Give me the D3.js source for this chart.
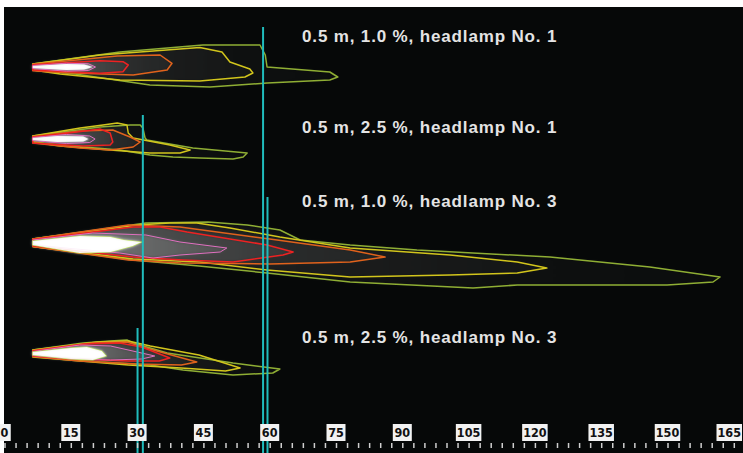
<!DOCTYPE html>
<html>
<head>
<meta charset="utf-8">
<script src="https://cdn.jsdelivr.net/npm/d3@7"></script>
<style>
  body { margin: 0; background: #fff; }
  svg { display: block; }
</style>
</head>
<body>
<script>
// isolux contours, [distance m, lateral offset]
var p1Core   = [[6.4,0.1],[14,0.3],[18,0.25],[20,0],[18,-0.25],[14,-0.3],[6.4,-0.1]];
var p1Pink   = [[6.4,0.15],[14,0.38],[19,0.32],[20.6,0],[19,-0.35],[14,-0.42],[6.4,-0.15]];
var p1Red    = [[6.4,0.22],[21.6,0.63],[26.8,0.53],[28,0.2],[26.8,-0.47],[21.6,-0.63],[6.4,-0.3]];
var p1Orange = [[6.4,0.27],[25.5,1.1],[35.2,1.2],[37.9,0.37],[36.8,-0.3],[29.1,-0.8],[14.1,-0.57],[6.4,-0.37]];
var p1Yellow = [[6.4,0.3],[21.6,1.2],[44.2,1.95],[49.2,1.5],[51,0.5],[55.5,-0.2],[56.2,-0.6],[54.4,-1.0],[44.2,-1.4],[26.1,-1.3],[12.6,-0.7],[6.4,-0.3]];
var p1Green  = [[6.4,0.3],[26.1,1.5],[44.9,2.2],[57.8,2.2],[59.0,1.2],[59.4,0],[73.6,-0.5],[75.4,-1.0],[73.6,-1.3],[59.4,-1.6],[46.5,-2.0],[32.9,-1.8],[16,-0.7],[6.4,-0.3]];

var p2Core   = [[6.4,0.1],[12,0.3],[17.8,0.25],[19,0],[17.8,-0.25],[12,-0.3],[6.4,-0.1]];
var p2Pink   = [[6.4,0.15],[14,0.45],[19.3,0.3],[20.5,0],[19.3,-0.35],[14,-0.45],[6.4,-0.15]];
var p2Red    = [[6.4,0.2],[16.4,0.7],[21.6,1.0],[23.9,0.6],[24.5,-0.3],[23.9,-0.6],[17.8,-0.7],[6.4,-0.4]];
var p2Orange = [[6.4,0.25],[17.1,0.8],[24.5,0.9],[28.4,0.2],[30.7,-0.3],[29.1,-0.8],[23.9,-1.1],[17.1,-0.9],[6.4,-0.4]];
var p2Yellow = [[6.4,0.3],[17.1,1.1],[22.3,1.4],[25.5,1.6],[27.7,1.4],[28,0.6],[29.1,0.1],[37.4,-0.6],[42,-1.1],[39.7,-1.4],[32.9,-1.4],[23.9,-1.1],[12.6,-0.7],[6.4,-0.3]];
var p2Green  = [[6.4,0.3],[21.6,1.2],[28.4,1.4],[30.7,1.4],[31.3,1.1],[31.8,0.1],[32.2,-0.1],[42.6,-0.9],[54.9,-1.4],[54,-1.8],[51.7,-2.0],[44.2,-1.9],[38.1,-1.8],[32.9,-1.6],[26.1,-1.1],[12.6,-0.6],[6.4,-0.3]];

var p3Core   = [[6.4,0.1],[17.1,0.6],[24,0.5],[27,0.2],[31,0],[29,-0.4],[24,-1.0],[17,-1.1],[6.4,-0.3]];
var p3Pink   = [[6.4,0.2],[20,0.9],[32,0.7],[39.7,0],[50.3,-0.6],[48.8,-1.0],[39.7,-1.3],[33.6,-1.6],[26.1,-1.1],[6.4,-0.3]];
var p3Red    = [[6.4,0.25],[29.1,1.5],[35.2,1.5],[41.3,1.0],[59.4,-0.3],[65.3,-1.0],[63,-1.3],[51.7,-2.0],[40.4,-1.8],[29.1,-1.5],[6.4,-0.4]];
var p3Orange = [[6.4,0.3],[28,1.7],[39.7,1.5],[60,0.3],[78.2,-0.8],[86.1,-1.5],[78.2,-2.0],[60,-2.2],[40,-2.1],[28,-1.8],[6.4,-0.45]];
var p3Yellow = [[6.4,0.3],[30,1.7],[37.4,1.9],[43.5,1.9],[51,1.4],[62.3,0.5],[78.2,-0.6],[100.8,-1.3],[116,-2.0],[122.7,-2.6],[116,-3.1],[100.8,-3.3],[78.2,-3.5],[59.4,-2.8],[44.2,-2.0],[29.1,-1.7],[6.4,-0.45]];
var p3Green  = [[6.4,0.3],[32,1.9],[46,2.0],[54.9,1.7],[62.3,1.2],[66.9,0.2],[78.2,-0.3],[93.3,-0.8],[123.4,-1.5],[146,-2.5],[161.9,-3.5],[160.3,-4.0],[149.9,-4.3],[116,-4.3],[106,-4.6],[78.2,-4.0],[59.4,-3.1],[44,-2.4],[29,-1.8],[6.4,-0.45]];

var p4Core   = [[6.4,0.1],[15,0.5],[18.6,0.6],[22,0.2],[23,-0.3],[20,-0.7],[15,-0.6],[6.4,-0.2]];
var p4Pink   = [[6.4,0.15],[17,0.8],[24,0.7],[30,0.1],[34,-0.3],[31,-0.6],[24,-0.7],[15,-0.6],[6.4,-0.25]];
var p4Red    = [[6.4,0.2],[18,0.9],[26,1.0],[31,0.6],[37.4,-0.5],[35,-0.8],[28,-0.8],[16,-0.6],[6.4,-0.3]];
var p4Orange = [[6.4,0.25],[20,1.0],[27.7,1.1],[32,0.5],[43.5,-0.9],[40,-1.2],[30,-1.1],[17,-0.8],[6.4,-0.35]];
var p4Yellow = [[6.4,0.3],[21,1.1],[28,1.2],[33,0.7],[44,-0.2],[53.3,-1.5],[50,-1.8],[40,-1.5],[28,-1.2],[6.4,-0.4]];
var p4Green  = [[6.4,0.3],[17.8,1.0],[23.9,1.2],[27.7,1.3],[29.1,1.0],[36.8,0],[51.7,-1.0],[62.3,-1.6],[60.7,-2.0],[51.7,-2.2],[40.4,-1.7],[32.9,-1.2],[21.6,-0.9],[6.4,-0.3]];

var panelLabels = ["0.5 m, 1.0 %, headlamp No. 1", "0.5 m, 2.5 %, headlamp No. 1",
                   "0.5 m, 1.0 %, headlamp No. 3", "0.5 m, 2.5 %, headlamp No. 3"];
var cutDist = [58.5, 31.3, 59.5, 30.1];   // cyan marker distance, m
var cutTop  = [4.0, 2.4, 4.5, 2.5];       // marker top, lateral units
var tickLabels = [0, 15, 30, 45, 60, 75, 90, 105, 120, 135, 150, 165];

var width = 743, height = 453;
var panelY = [67, 139, 242, 353];
var labelY = [42, 133, 207, 343];

// colour + glow per contour level
var level = {
  green:  {stroke: "#8fae34", glow: 0.06, w: 1.5},
  yellow: {stroke: "#d2c51c", glow: 0.07, w: 1.5},
  orange: {stroke: "#e0621c", glow: 0.11, w: 1.5},
  red:    {stroke: "#ee2222", glow: 0.16, w: 1.5},
  pink:   {stroke: "#e070c0", glow: 0.24, w: 1},
  lime:   {stroke: "#b4dc50", glow: 0.0, w: 1.2}
};

var panels = [
  [[p1Green,"green"],[p1Yellow,"yellow"],[p1Orange,"orange"],[p1Red,"red"],[p1Pink,"pink"]],
  [[p2Green,"green"],[p2Yellow,"yellow"],[p2Orange,"orange"],[p2Red,"red"],[p2Pink,"pink"]],
  [[p3Green,"green"],[p3Yellow,"yellow"],[p3Orange,"orange"],[p3Red,"red"],[p3Pink,"pink"]],
  [[p4Green,"green"],[p4Yellow,"yellow"],[p4Orange,"orange"],[p4Red,"red"],[p4Pink,"pink"]]
];
var cores = [[p1Core,null],[p2Core,null],[p3Core,"lime"],[p4Core,"lime"]];

var x = d3.scaleLinear().domain([0, 165]).range([4.5, 733.8]);
function yScale(i) {
  return d3.scaleLinear().domain([-1, 1]).range([panelY[i] + 10, panelY[i] - 10]);
}

var svg = d3.select("body").append("svg")
    .attr("width", width)
    .attr("height", height);

var defs = svg.append("defs");
defs.append("filter").attr("id", "soft")
    .attr("x", "-10%").attr("y", "-50%").attr("width", "120%").attr("height", "200%")
  .append("feGaussianBlur").attr("stdDeviation", 1.6);
var grad = defs.append("linearGradient").attr("id", "fade")
    .attr("x1", 0).attr("x2", 1).attr("y1", 0).attr("y2", 0);
grad.append("stop").attr("offset", 0).attr("stop-color", "#fff").attr("stop-opacity", 1);
grad.append("stop").attr("offset", 1).attr("stop-color", "#fff").attr("stop-opacity", 0.35);

// black plot area
svg.append("rect")
    .attr("x", 4).attr("y", 7)
    .attr("width", width - 4).attr("height", height - 7)
    .attr("fill", "#060808");

panels.forEach(function(contours, i) {
  var y = yScale(i);
  var line = d3.line()
      .x(function(d) { return x(d[0]); })
      .y(function(d) { return y(d[1]); })
      .curve(d3.curveLinearClosed);

  var g = svg.append("g");

  // glow underneath
  var glow = g.append("g").attr("filter", "url(#soft)");
  glow.selectAll("path")
      .data(contours)
    .enter().append("path")
      .attr("d", function(d) { return line(d[0]); })
      .attr("fill", "url(#fade)")
      .attr("fill-opacity", function(d) { return level[d[1]].glow; });
  glow.append("path")
      .attr("d", line(cores[i][0]))
      .attr("fill", "#fff");

  // contour lines
  g.selectAll("path.iso")
      .data(contours)
    .enter().append("path")
      .attr("class", "iso")
      .attr("d", function(d) { return line(d[0]); })
      .attr("fill", "none")
      .attr("stroke", function(d) { return level[d[1]].stroke; })
      .attr("stroke-width", function(d) { return level[d[1]].w; })
      .attr("stroke-linejoin", "round");

  if (cores[i][1]) {
    g.append("path")
        .attr("d", line(cores[i][0]))
        .attr("fill", "none")
        .attr("stroke", level[cores[i][1]].stroke)
        .attr("stroke-width", level[cores[i][1]].w);
  }
  g.append("path")
      .attr("d", line(cores[i][0]))
      .attr("fill", "#fff")
      .attr("fill-opacity", 0.9);

  svg.append("text")
      .attr("x", 302)
      .attr("y", labelY[i])
      .attr("fill", "#e4e4e4")
      .style("font-family", "'Liberation Sans', Arial, sans-serif")
      .style("font-weight", "bold")
      .style("font-size", "17px")
      .style("letter-spacing", "0.85px")
      .text(panelLabels[i]);
});

// cyan cut-off markers
svg.selectAll("line.cut")
    .data(cutDist)
  .enter().append("line")
    .attr("class", "cut")
    .attr("x1", function(d) { return x(d); })
    .attr("x2", function(d) { return x(d); })
    .attr("y1", function(d, i) { return yScale(i)(cutTop[i]); })
    .attr("y2", height)
    .attr("stroke", "#20bcbc")
    .attr("stroke-width", 2);

// distance axis: small ticks every 2.5 m, boxed labels every 15 m
var axis = d3.axisBottom(x)
    .tickValues(d3.range(0, 166, 2.5))
    .tickSizeInner(5)
    .tickSizeOuter(0)
    .tickFormat("");
var ax = svg.append("g")
    .attr("transform", "translate(0,443)")
    .call(axis);
ax.select(".domain").remove();
ax.selectAll(".tick line").attr("stroke", "#cfcfcf").attr("stroke-width", 1.5);

function boxW(d) { return 6 + 6.5 * String(d).length; }
// keep the last box inside the frame
function boxX(d) { return Math.min(x(d), width - boxW(d) / 2 - 1); }

var lab = svg.selectAll("g.lab")
    .data(tickLabels)
  .enter().append("g")
    .attr("class", "lab")
    .attr("transform", function(d) { return "translate(" + boxX(d) + ",0)"; });
lab.append("rect")
    .attr("x", function(d) { return -boxW(d) / 2; })
    .attr("y", 424)
    .attr("width", boxW)
    .attr("height", 17)
    .attr("fill", "#f2f2f2");
lab.append("text")
    .attr("y", 437)
    .attr("text-anchor", "middle")
    .attr("fill", "#111")
    .style("font-family", "'DejaVu Sans Condensed', 'DejaVu Sans', sans-serif")
    .style("font-weight", "bold")
    .style("font-size", "12.5px")
    .text(function(d) { return d; });
</script>
</body>
</html>
